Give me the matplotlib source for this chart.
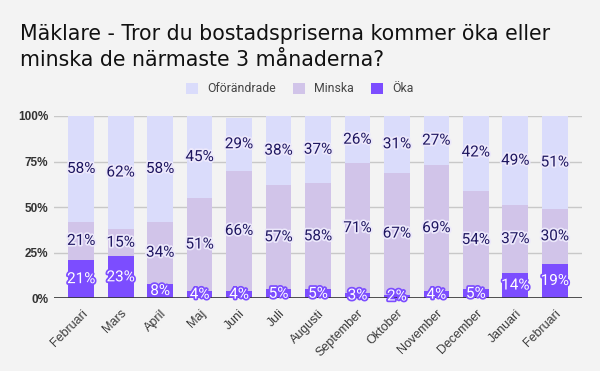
import matplotlib
matplotlib.use("Agg")
import matplotlib.pyplot as plt
import matplotlib.patheffects as pe
import numpy as np

months = ["Februari", "Mars", "April", "Maj", "Juni", "Juli", "Augusti",
          "September", "Oktober", "November", "December", "Januari", "Februari"]
oka = [21, 23, 8, 4, 4, 5, 5, 3, 2, 4, 5, 14, 19]
minska = [21, 15, 34, 51, 66, 57, 58, 71, 67, 69, 54, 37, 30]
oforandrade = [58, 62, 58, 45, 29, 38, 37, 26, 31, 27, 42, 49, 51]
yticks = [0, 25, 50, 75, 100]
ytick_labels = ["0%", "25%", "50%", "75%", "100%"]

title_lines = ["Mäklare - Tror du bostadspriserna kommer öka eller",
               "minska de närmaste 3 månaderna?"]

plt.rcParams['font.family'] = ['Roboto', 'DejaVu Sans']

BG = "#f3f3f3"
C_OKA = "#7c4dff"
C_MIN = "#d1c4e9"
C_OF = "#dadcfb"
C_TXT = "#1e1660"

fig = plt.figure(figsize=(6.0, 3.71), dpi=100, facecolor=BG)
ax = fig.add_axes([54/600, 1 - 298.3/371, (582 - 54)/600, (298.3 - 116)/371])
ax.set_facecolor(BG)

x = np.arange(len(months))
w = 0.65
oka_a = np.array(oka, float)
min_a = np.array(minska, float)
of_a = np.array(oforandrade, float)

b1 = ax.bar(x, oka_a, w, color=C_OKA, label="Öka", zorder=3)
b2 = ax.bar(x, min_a, w, bottom=oka_a, color=C_MIN, label="Minska", zorder=3)
b3 = ax.bar(x, of_a, w, bottom=oka_a + min_a, color=C_OF, label="Oförändrade", zorder=3)

dark_fx = [pe.withStroke(linewidth=2.5, foreground="#ece8fb")]
white_fx = [pe.withStroke(linewidth=2.5, foreground=C_OKA)]

for i in range(len(months)):
    ax.text(x[i], oka_a[i] / 2, f"{oka[i]:.0f}%", ha="center", va="center", fontsize=11,
            color="white", path_effects=white_fx, zorder=5)
    ax.text(x[i], oka_a[i] + min_a[i] / 2, f"{minska[i]:.0f}%", ha="center", va="center",
            fontsize=11, color=C_TXT, path_effects=dark_fx, zorder=5)
    ax.text(x[i], oka_a[i] + min_a[i] + of_a[i] / 2, f"{oforandrade[i]:.0f}%", ha="center",
            va="center", fontsize=11, color=C_TXT, path_effects=dark_fx, zorder=5)

ax.set_xlim(-0.69, len(months) - 1 + 0.69)
ax.set_ylim(0, 100)
ax.set_yticks(yticks)
ax.set_yticklabels(ytick_labels, fontsize=8.5, fontweight="bold", color="#333333",
                   family=["Liberation Sans", "DejaVu Sans"])
ax.set_xticks(x)
ax.set_xticklabels(months, rotation=45, ha="right", va="top", rotation_mode="anchor",
                   fontsize=9, color="#3a3a3a", family=["Liberation Sans", "DejaVu Sans"])
ax.tick_params(axis="y", length=0, pad=4.3)
ax.tick_params(axis="x", length=0, pad=6.5)
ax.grid(axis="y", color="#c8c8c8", linewidth=1, zorder=0)
ax.axhline(0, color="#333333", linewidth=1.2, zorder=4)
for s in ax.spines.values():
    s.set_visible(False)

handles = [b3, b2, b1]
leg = fig.legend(handles, ["Oförändrade", "Minska", "Öka"], loc="center",
                 bbox_to_anchor=(300/600, 1 - 89/371), ncol=3, frameon=False,
                 fontsize=8.8, handlelength=0.98, handleheight=0.98, handletextpad=0.74,
                 columnspacing=1.4, labelcolor="#444444")

fig.text(20/600, 1 - 40/371, title_lines[0], ha="left", va="baseline", fontsize=14.8,
         color="#111111", family="DejaVu Sans")
fig.text(20/600, 1 - 66/371, title_lines[1], ha="left", va="baseline", fontsize=14.8,
         color="#111111", family="DejaVu Sans")

fig.savefig("out.png", dpi=100, facecolor=BG)
